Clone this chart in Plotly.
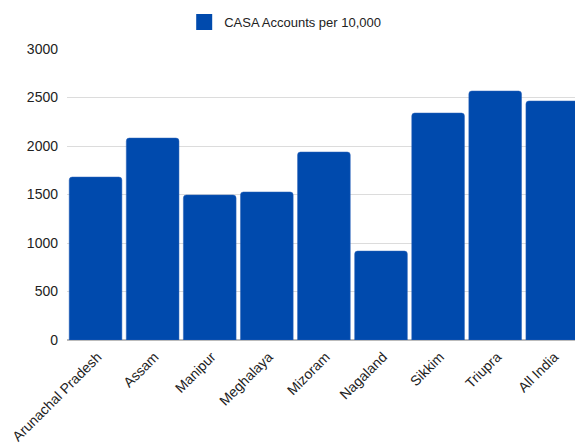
import plotly.graph_objects as go

states = ["Arunachal Pradesh", "Assam", "Manipur", "Meghalaya", "Mizoram",
          "Nagaland", "Sikkim", "Triupra", "All India"]
casa_per_10000 = [1680, 2082, 1495, 1526, 1938, 917, 2340, 2567, 2464]
series_name = "CASA Accounts per 10,000"
y_ticks = [0, 500, 1000, 1500, 2000, 2500, 3000]
bar_color = "#004aad"

fig = go.Figure()
fig.add_trace(go.Bar(
    x=states, y=casa_per_10000, name=series_name, showlegend=False,
    marker=dict(color=bar_color, cornerradius=3,
                line=dict(color="#2a62b8", width=0.5)),
))
# legend-only entry with a square swatch
fig.add_trace(go.Scatter(
    x=[states[0]], y=[None], mode="markers", name=series_name, showlegend=True,
    marker=dict(symbol="square", size=16, color=bar_color),
    hoverinfo="skip",
))

fig.update_layout(
    width=575, height=443,
    margin=dict(l=67, r=0, t=49, b=103, pad=0, autoexpand=False),
    paper_bgcolor="white", plot_bgcolor="white",
    font=dict(family="Liberation Sans, Arial, sans-serif", size=13, color="#222"),
    bargap=0.077,
    legend=dict(orientation="h", x=0.496, xanchor="center", xref="container",
                y=1.0928, yanchor="middle", yref="paper",
                font=dict(size=13, color="#222"), itemsizing="trace"),
    xaxis=dict(type="category", categoryorder="array", categoryarray=states,
               range=[-0.5, 8.398], tickangle=-45, showgrid=False,
               showline=False, ticks="", tickfont=dict(size=14),
               ticklabelstandoff=5, ticklabelshift=2, automargin=False),
    yaxis=dict(range=[0, 3000], tickvals=y_ticks, showgrid=True,
               gridcolor="#dcdcdc", gridwidth=1, zeroline=True,
               zerolinecolor="#bbbbbb", showline=False, ticks="",
               ticklabelstandoff=8, tickfont=dict(size=14), automargin=False),
)

fig.write_html("out.html")
